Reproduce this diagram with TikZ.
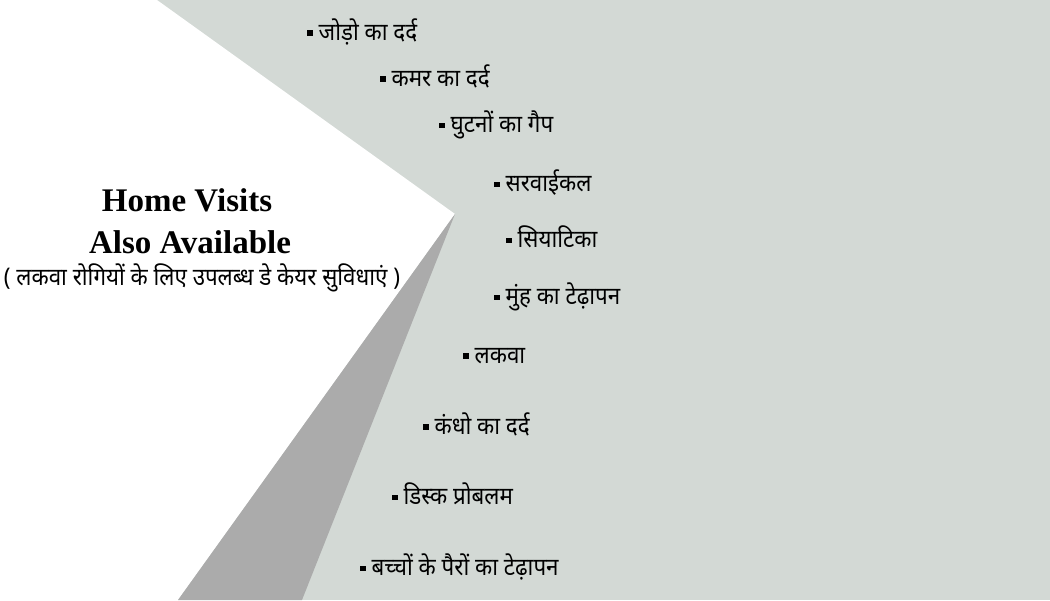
\documentclass[tikz,border=0pt]{standalone}
\usepackage{fontspec}
\setmainfont{Liberation Serif}
\newfontfamily\hindi[Script=Devanagari,FakeStretch=0.92]{Noto Sans}
\definecolor{bgcol}{HTML}{D3D9D5}
\definecolor{shadecol}{HTML}{ABABAB}
\tikzset{
  item/.style={anchor=west, inner sep=0pt, font=\hindi\fontsize{24.3}{28}\selectfont},
  head/.style={inner sep=0pt, font=\bfseries\fontsize{33}{36}\selectfont},
}
\newcommand{\sqb}{\rule[0.35ex]{5.5pt}{5.5pt}\hspace{6pt}}
\begin{document}
\begin{tikzpicture}[x=1pt,y=-1pt]
\path[use as bounding box] (0,0) rectangle (1050,600);
\fill[bgcol] (0,0) rectangle (1050,600);
\fill[white] (0,0) -- (157,0) -- (455,214) -- (178,600) -- (0,600) -- cycle;
\fill[shadecol] (455,214) -- (302,600) -- (178,600) -- cycle;
\node[head] (h1) at (187,200) {Home Visits};
\node[head] (h2) at (190,242) {Also Available};
\node[inner sep=0pt, font=\hindi\fontsize{24.3}{28}\selectfont] (h3) at (202,278) {( लकवा रोगियों के लिए उपलब्ध डे केयर सुविधाएं )};
\node[item] (i1) at (307,32) {\sqb जोड़ो का दर्द};
\node[item] (i2) at (380,76) {\sqb कमर का दर्द};
\node[item] (i3) at (439,125) {\sqb घुटनों का गैप};
\node[item] (i4) at (494,183) {\sqb सरवाईकल};
\node[item] (i5) at (506,237) {\sqb सियाटिका};
\node[item] (i6) at (494,297) {\sqb मुंह का टेढ़ापन};
\node[item] (i7) at (463,356) {\sqb लकवा};
\node[item] (i8) at (423,424) {\sqb कंधो का दर्द};
\node[item] (i9) at (392,494) {\sqb डिस्क प्रोबलम};
\node[item] (i10) at (360,567) {\sqb बच्चों के पैरों का टेढ़ापन};
\end{tikzpicture}
\end{document}
